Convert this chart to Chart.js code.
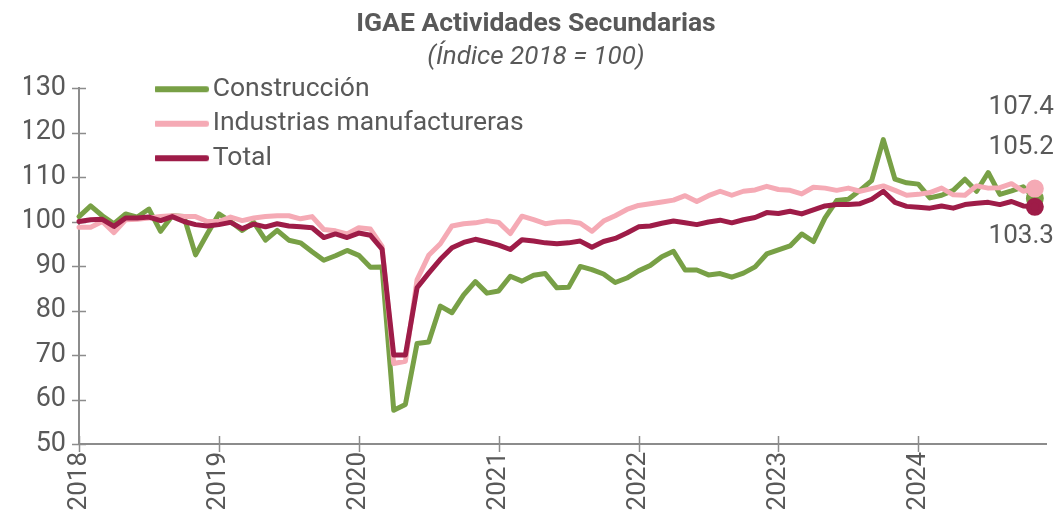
<!DOCTYPE html>
<html lang="es">
<head>
<meta charset="utf-8">
<title>IGAE Actividades Secundarias</title>
<script src="https://cdn.jsdelivr.net/npm/chart.js@4.4.1/dist/chart.umd.min.js"></script>
<style>
  html, body { margin: 0; padding: 0; background: #ffffff; }
  #wrap { width: 1058px; height: 520px; }
</style>
</head>
<body>
<div id="wrap"><canvas id="grafica" width="1058" height="520"></canvas></div>
<script>
/******************** datos (indice 2018 = 100, mensual) ********************/

const anios = [2018, 2019, 2020, 2021, 2022, 2023, 2024];
const series = ["Construcción", "Industrias manufactureras", "Total"];

const construccion = [
  101.1, 103.5, 101.3, 99.5, 101.7, 101.0, 102.8, 97.8, 101.3, 101.1, 92.5, 97.2,
  101.7, 100.0, 98.0, 99.8, 95.8, 98.0, 95.8, 95.2, 93.2, 91.3, 92.3, 93.5,
  92.4, 89.7, 89.8, 57.6, 58.9, 72.6, 72.9, 81.0, 79.5, 83.5, 86.5, 83.9,
  84.4, 87.7, 86.6, 87.9, 88.3, 85.1, 85.2, 89.9, 89.2, 88.2, 86.3, 87.3,
  88.9, 90.1, 92.1, 93.3, 89.1, 89.1, 88.0, 88.3, 87.5, 88.4, 89.8, 92.7,
  93.6, 94.5, 97.2, 95.5, 100.8, 104.7, 105.0, 107.0, 109.2, 118.4, 109.5, 108.7,
  108.4, 105.3, 105.9, 107.0, 109.5, 106.8, 111.0, 106.1, 106.9, 107.8, 105.2
];

const manufacturas = [
  98.7, 98.7, 100.0, 97.5, 100.4, 100.5, 100.8, 101.1, 101.3, 101.1, 101.1, 100.0,
  100.0, 101.0, 100.2, 100.8, 101.1, 101.3, 101.3, 100.6, 101.1, 98.2, 97.9, 97.2,
  98.6, 98.3, 94.4, 68.1, 68.6, 86.9, 92.4, 95.0, 99.0, 99.5, 99.7, 100.2,
  99.8, 97.3, 101.2, 100.4, 99.5, 99.9, 100.0, 99.6, 97.8, 100.1, 101.3, 102.7,
  103.6, 104.0, 104.4, 104.8, 105.8, 104.5, 105.8, 106.8, 105.9, 106.8, 107.1, 107.9,
  107.2, 107.0, 106.2, 107.7, 107.5, 107.0, 107.5, 106.8, 107.4, 108.0, 107.0, 105.9,
  106.1, 106.5, 107.5, 106.0, 105.9, 108.0, 107.5, 107.6, 108.5, 106.8, 107.4
];

const total = [
  100.0, 100.4, 100.5, 98.9, 100.8, 100.8, 101.0, 100.2, 101.1, 100.0, 99.3, 99.0,
  99.3, 99.8, 98.4, 99.4, 98.8, 99.5, 99.0, 98.8, 98.6, 96.4, 97.2, 96.4,
  97.4, 96.9, 93.8, 70.0, 70.0, 85.1, 88.4, 91.5, 94.1, 95.3, 96.0, 95.4,
  94.7, 93.7, 95.9, 95.6, 95.2, 95.0, 95.2, 95.6, 94.2, 95.5, 96.2, 97.4,
  98.8, 99.0, 99.6, 100.1, 99.7, 99.3, 99.9, 100.3, 99.7, 100.4, 100.9, 102.0,
  101.8, 102.3, 101.7, 102.6, 103.5, 103.8, 103.8, 104.0, 105.0, 106.8, 104.3, 103.4,
  103.2, 103.0, 103.5, 103.0, 103.8, 104.1, 104.3, 103.8, 104.5, 103.5, 103.3
];

// etiquetas mensuales "aaaa-mm" (el eje llega hasta dic 2024)
const fechas = [];
anios.forEach(function (a) {
  for (let m = 1; m <= 12; m++) fechas.push(a + "-" + String(m).padStart(2, "0"));
});

/******************** estilos ********************/

const colores = ["#78A046", "#F5AAB5", "#9E1C48"];
const gris = "#595959";
const grisEje = "#8C8C8C";
const desfaseEtiqueta = [-51, -81, 30]; // posicion vertical del valor final respecto al punto

Chart.defaults.font.family = "Roboto, 'Noto Sans', sans-serif";
Chart.defaults.color = gris;

function radioFinal(c) {
  return c.dataIndex === c.dataset.data.length - 1 ? 6.5 : 0;
}

// muestra de linea para la leyenda (trazo grueso con extremos redondos)
function muestraLinea(color) {
  const c = document.createElement("canvas");
  c.width = 56;
  c.height = 8;
  const g = c.getContext("2d");
  g.strokeStyle = color;
  g.lineWidth = 6;
  g.lineCap = "round";
  g.beginPath();
  g.moveTo(3, 4);
  g.lineTo(53, 4);
  g.stroke();
  return c;
}
const muestras = colores.map(muestraLinea);

/******************** plugins ********************/

// marcas de graduacion que cruzan los ejes
const marcasEje = {
  id: "marcasEje",
  beforeDatasetsDraw(chart) {
    const { ctx, chartArea, scales } = chart;
    ctx.save();
    ctx.strokeStyle = grisEje;
    ctx.lineWidth = 1.5;
    ctx.beginPath();
    scales.y.ticks.forEach(function (t) {
      const py = Math.round(scales.y.getPixelForValue(t.value)) + 0.5;
      ctx.moveTo(chartArea.left - 7, py);
      ctx.lineTo(chartArea.left + 7, py);
    });
    fechas.forEach(function (f, i) {
      if (!f.endsWith("-01")) return;
      const px = Math.round(scales.x.getPixelForValue(i)) + 0.5;
      ctx.moveTo(px, chartArea.bottom - 8);
      ctx.lineTo(px, chartArea.bottom + 8);
    });
    ctx.stroke();
    ctx.restore();
  }
};

// valor del ultimo dato de cada serie
const valorFinal = {
  id: "valorFinal",
  afterDatasetsDraw(chart) {
    const { ctx } = chart;
    ctx.save();
    ctx.font = "26px Roboto, 'Noto Sans', sans-serif";
    ctx.fillStyle = gris;
    ctx.textAlign = "right";
    ctx.textBaseline = "middle";
    chart.data.datasets.forEach(function (ds, i) {
      const meta = chart.getDatasetMeta(i);
      const pt = meta.data[ds.data.length - 1];
      if (!pt) return;
      ctx.fillText(ds.data[ds.data.length - 1].toFixed(1), pt.x + 19, pt.y + desfaseEtiqueta[i]);
    });
    ctx.restore();
  }
};

// la leyenda va dentro del area del grafico, arriba a la izquierda
const moverLeyenda = {
  id: "moverLeyenda",
  afterLayout(chart) {
    const lg = chart.legend;
    if (!lg) return;
    lg.left = chart.chartArea.left + 76;
    lg.top = chart.chartArea.top - 20;
  }
};

/******************** grafica ********************/

const ctx = document.getElementById("grafica").getContext("2d");
const grafica = new Chart(ctx, {
  type: "line",
  data: {
    labels: fechas,
    datasets: [
      {
        label: series[0],
        data: construccion,
        borderColor: colores[0],
        backgroundColor: colores[0],
        borderWidth: 5,
        order: 2,
      },
      {
        label: series[1],
        data: manufacturas,
        borderColor: colores[1],
        backgroundColor: colores[1],
        borderWidth: 5,
        order: 1,
      },
      {
        label: series[2],
        data: total,
        borderColor: colores[2],
        backgroundColor: colores[2],
        borderWidth: 5,
        order: 0,
      },
    ],
  },
  options: {
    responsive: false,
    animation: false,
    layout: {
      padding: { left: 24, right: 10, top: 0, bottom: 0 },
    },
    elements: {
      line: { tension: 0, borderCapStyle: "round", borderJoinStyle: "round" },
      point: { radius: radioFinal, hoverRadius: radioFinal, borderWidth: 0 },
    },
    plugins: {
      title: {
        display: true,
        text: "IGAE Actividades Secundarias",
        color: gris,
        font: { size: 26.5, weight: "bold" },
        padding: { top: 8, bottom: 0 },
      },
      subtitle: {
        display: true,
        text: "(Índice 2018 = 100)",
        color: gris,
        font: { size: 26, style: "italic" },
        padding: { top: 2, bottom: 15 },
      },
      legend: {
        position: "chartArea",
        align: "start",
        labels: {
          usePointStyle: true,
          pointStyleWidth: 36.5,
          padding: 8,
          color: gris,
          font: { size: 26.5 },
          generateLabels: function (chart) {
            const items = Chart.defaults.plugins.legend.labels.generateLabels(chart);
            items.forEach(function (it) { it.pointStyle = muestras[it.datasetIndex]; });
            return items;
          },
          sort: function (a, b) { return a.datasetIndex - b.datasetIndex; },
        },
      },
      tooltip: { enabled: false },
    },
    scales: {
      x: {
        type: "category",
        grid: { display: false, drawTicks: false },
        border: { display: true, color: grisEje, width: 2 },
        ticks: {
          autoSkip: false,
          minRotation: 90,
          maxRotation: 90,
          padding: 8,
          color: gris,
          font: { size: 26 },
          callback: function (v, i) {
            return fechas[i].endsWith("-01") ? fechas[i].slice(0, 4) : null;
          },
        },
        afterFit: function (s) { s.height = 76; },
      },
      y: {
        min: 50,
        max: 130,
        grid: { display: false, drawTicks: false },
        border: { display: true, color: grisEje, width: 2 },
        ticks: { stepSize: 10, padding: 13, color: gris, font: { size: 27 } },
        afterFit: function (s) { s.width = 55; },
      },
    },
  },
  plugins: [marcasEje, valorFinal, moverLeyenda],
});
</script>
</body>
</html>
